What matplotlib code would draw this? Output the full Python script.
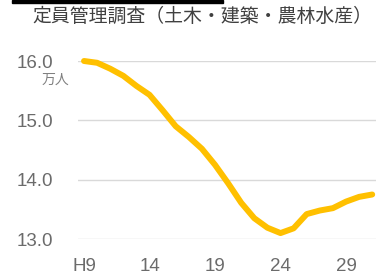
import matplotlib.pyplot as plt
import matplotlib.patches as mpatches

plt.rcParams['font.family'] = ['Liberation Sans', 'Noto Sans CJK JP']

# === Data (万人, H9..H31) ===
years = ['H9', '10', '11', '12', '13', '14', '15', '16', '17', '18', '19', '20',
         '21', '22', '23', '24', '25', '26', '27', '28', '29', '30', '31']
staff = [16.00, 15.97, 15.87, 15.75, 15.58, 15.43, 15.17, 14.90, 14.72, 14.52,
         14.25, 13.94, 13.61, 13.35, 13.19, 13.10, 13.18, 13.42, 13.48, 13.52,
         13.63, 13.71, 13.75]
tick_labels = ['H9', '14', '19', '24', '29']
y_ticks = [13.0, 14.0, 15.0, 16.0]

title = '定員管理調査（土木・建築・農林水産）'
unit = '万人'

# === Figure ===
fig = plt.figure(figsize=(3.76, 2.76), dpi=100)
ax = fig.add_axes([78 / 376, 37 / 276, 298 / 376, 178 / 276])

x = list(range(len(years)))
ax.plot(x, staff, color='#FFC000', linewidth=4.3, solid_capstyle='round',
        solid_joinstyle='round', clip_on=False, zorder=3)

ax.set_xlim(-0.46, 22.29)
ax.set_ylim(13.0, 16.0)
ax.set_yticks(y_ticks)
ax.set_yticklabels([f'{v:.1f}' for v in y_ticks])
ax.set_xticks([years.index(t) for t in tick_labels])
ax.set_xticklabels(tick_labels)

ax.grid(True, axis='y', color='#d9d9d9', linewidth=1)
ax.set_axisbelow(True)
for s in ax.spines.values():
    s.set_visible(False)
ax.tick_params(length=0, labelsize=13.5, labelcolor='#6b6b6b')
ax.tick_params(axis='y', pad=18)
ax.tick_params(axis='x', pad=14)

fig.text(42 / 376, 1 - 80 / 276, unit, fontsize=10, color='#808080',
         va='center', ha='left', family=['Noto Sans CJK JP'])
fig.text(32 / 376, 1 - 16 / 276, title, fontsize=13.6, color='#404040',
         va='center', ha='left', family=['Noto Sans CJK JP'])

# black bar at top edge
fig.patches.append(mpatches.Rectangle((12 / 376, 1 - 2.5 / 276), 211 / 376, 2.5 / 276,
                                      transform=fig.transFigure, color='black'))

fig.savefig('out.png', dpi=100)
